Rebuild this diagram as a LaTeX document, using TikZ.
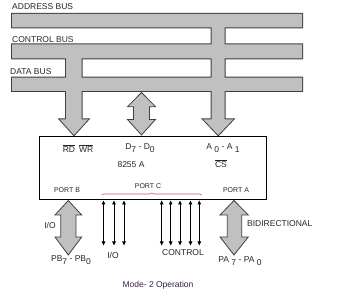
\documentclass[tikz,border=0pt]{standalone}
\usepackage{fontspec}
\setmainfont{Liberation Sans}
\usetikzlibrary{arrows.meta,decorations.pathreplacing}

\definecolor{busgray}{RGB}{192,192,192}
\definecolor{bracepink}{RGB}{196,80,120}
\definecolor{titleink}{RGB}{55,30,85}
\newcommand\lowidx[1]{\raisebox{-3pt}{#1}}
% the three buses with the two stems that drop from them
\newcommand\busnet{(12,14) rectangle (302,27.3)
  (12,44.3) rectangle (302,58.3)
  (12,77.7) rectangle (302,91)
  (66,50) -- (66,119.5) -- (60,119.5) -- (74,135) -- (88,119.5) -- (81.5,119.5) -- (81.5,50) -- cycle
  (211.5,20) -- (211.5,119.5) -- (203.5,119.5) -- (218.3,135) -- (233,119.5) -- (224.5,119.5) -- (224.5,20) -- cycle}

\begin{document}
\begin{tikzpicture}[x=1pt, y=-1pt, >={Triangle[length=4pt,width=3.5pt]},
    lbl/.style={inner sep=0pt, text=black!85, font=\fontsize{8.5}{10}\selectfont},
    portlbl/.style={lbl, font=\fontsize{7}{8}\selectfont},
    fat/.style={fill=busgray, draw=black!75, line width=0.8pt, line join=miter}]
    \useasboundingbox (0,0) rectangle (346,294);

    \draw[line width=2pt, draw=black!75] \busnet;
    \fill[busgray] \busnet;

    \node[lbl, anchor=west] (addr) at (12,7) {ADDRESS BUS};
    \node[lbl, anchor=west] (ctrl) at (12,40) {CONTROL BUS};
    \node[lbl, anchor=west] (data) at (10,72) {DATA BUS};

    % data bus <-> chip
    \draw[fat] (127.5,106.7) -- (141.5,92.5) -- (155.5,106.7) -- (149.5,106.7) -- (149.5,119.5) -- (155.5,119.5)
        -- (141.5,135) -- (127.5,119.5) -- (133.5,119.5) -- (133.5,106.7) -- cycle;

    \node[draw=black, line width=0.8pt, minimum width=227pt, minimum height=63pt, inner sep=0pt] (chip) at (153,167.6) {};

    \node[lbl] (rdwr) at (78,149) {$\overline{\mbox{RD}}$\hspace{4pt}$\overline{\mbox{WR}}$};
    \node[lbl] (dpins) at (140,148) {D\lowidx{7} - D\lowidx{0}};
    \node[lbl] (apins) at (223,148) {A \lowidx{0} - A \lowidx{1}};
    \node[lbl] (cs) at (221,164) {$\overline{\mbox{CS}}$};
    \node[lbl] (chipname) at (131,165) {8255 A};
    \node[portlbl] (portb) at (67,190) {PORT B};
    \node[portlbl] (portc) at (148,186) {PORT C};
    \node[portlbl] (porta) at (236,190) {PORT A};
    \draw[bracepink, line width=0.6pt, decorate, decoration={brace, amplitude=2pt}] (101.7,195) -- (201.7,195);

    % port C lines
    \foreach \x in {103.5,114,124,161.7,170.7,180,190.5,199.3}
        \draw[<->, line width=0.8pt] (\x,200.5) -- (\x,245.5);

    % port B and port A
    \draw[fat] (55,215) -- (68.3,200.5) -- (81.7,215) -- (76,215) -- (76,237) -- (81.7,237)
        -- (68.3,255) -- (55,237) -- (60.7,237) -- (60.7,215) -- cycle;
    \draw[fat] (220,215) -- (234,200.5) -- (248.3,215) -- (241.7,215) -- (241.7,237) -- (248.3,237)
        -- (234,255) -- (220,237) -- (227.3,237) -- (227.3,215) -- cycle;

    \node[lbl] (iob) at (50,225) {I/O};
    \node[lbl, anchor=west] (bidir) at (247,224) {BIDIRECTIONAL};
    \node[lbl] (ioc) at (113,255) {I/O};
    \node[lbl] (ctrlc) at (183,253) {CONTROL};
    \node[lbl] (pbpins) at (71,260) {PB\lowidx{7} - PB\lowidx{0}};
    \node[lbl] (papins) at (240,261) {PA \lowidx{7} - PA \lowidx{0}};

    \node[lbl, text=titleink] (title) at (158,285) {Mode- 2 Operation};
\end{tikzpicture}
\end{document}
